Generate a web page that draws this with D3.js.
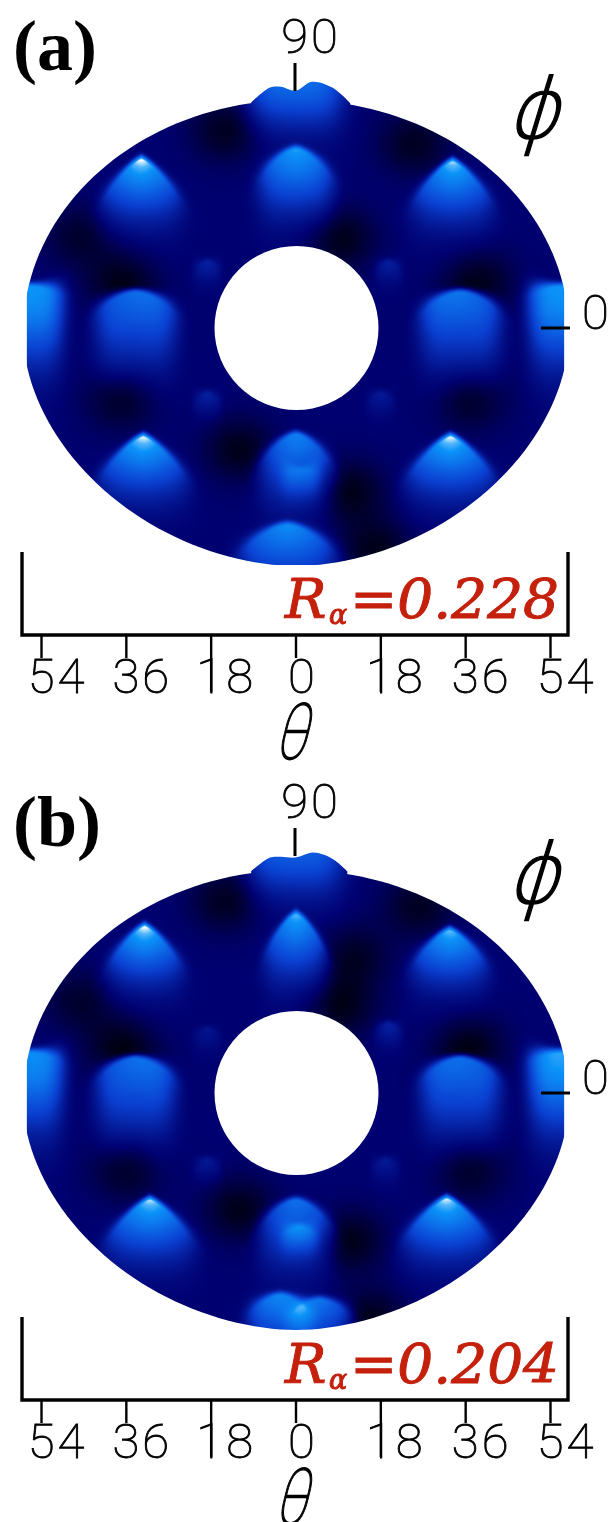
<!DOCTYPE html>
<html><head><meta charset="utf-8">
<script src="https://cdn.jsdelivr.net/npm/d3@7"></script>
<style>
html,body{margin:0;padding:0;background:#fff;width:611px;height:1522px;overflow:hidden}
canvas,svg{position:absolute;left:0;top:0}
.num{font-family:Roboto,"DejaVu Sans",sans-serif;font-weight:100;font-size:49px;fill:#000;stroke:#000;stroke-width:.9px;letter-spacing:3px}
.tag{font-family:"Liberation Serif",serif;font-weight:700;font-size:72px;fill:#000}
.ra{font-family:"DejaVu Serif",serif;font-style:italic;fill:#c4200c;stroke:#c4200c;stroke-width:1px}
.sym{font-family:Roboto,"DejaVu Sans",sans-serif;font-weight:100;fill:#000;stroke:#000;stroke-width:1.3px}
</style></head><body>
<canvas id="heat" width="611" height="1522"></canvas>
<svg id="chart" width="611" height="1522"></svg>
<script>
// ---- axis labels / ticks
const thetaTicks = [-54,-36,-18,0,18,36,54];
const phiTicks = [0,90];
const panelTags = ["(a)","(b)"];
const ratios = ["0.228","0.204"];
const panelCentreY = [328,1093];

// ---- panel (a): mounds, degrees and intensity 0..1
const aTheta = [0,0,-32.8,33.2,-34,34.9,-57,57,-18.8,19.6,-18.8,18,-32.4,32.8,0,1,-1.8];
const aPhi   = [95,67.7,63.9,63.1,13.3,13.3,15.6,15.6,25,25,-25,-25,-41.4,-41.4,-40.7,-54,-75];
const aLevel = [.6,.8,1,.97,.72,.74,.8,.8,.27,.27,.27,.24,1,1,.7,.34,.72];
const aWidth = [10,8,9,9,8.6,8.6,7.4,7.4,3,3,3,3,10,10,8,4,10.5];
const aDepth = [22,27,25,25,31,31,33,33,10,10,10,10,25,25,28,12,26];
const aPoint = [1,.6,.3,.3,.8,.8,1,1,.6,.6,.6,.6,.3,.3,.6,1,.6];
// dark hollows of panel (a)
const aWellTheta = [-15,25,9.5,-37,39,-46,-37,37,-12,11.5,17,-34.7,34.9];
const aWellPhi   = [75,70,34,18,18,35,-27,-27,-46,-62,-84,2.3,2.3];
const aWellDepth = [.11,.11,.12,.11,.11,.09,.11,.11,.12,.12,.12,.09,.09];

// ---- panel (b)
const bTheta = [0,0,-32.1,32.6,-34,34.9,-57,57,-18.8,19.6,-18.8,19,-31,32,0,.7,-3.3,5];
const bPhi   = [94,67.7,63.1,61.6,12.9,12.9,15.2,15.2,24,26,-25.5,-25.5,-40.7,-40.3,-41,-51,-77,-78.7];
const bLevel = [.54,.86,1,.93,.74,.74,.76,.84,.22,.28,.24,.24,.98,1,.62,.46,.7,.62];
const bWidth = [10,7,8.5,8.5,8.4,8.4,7.4,7.4,3,3,3,3,10,10,8,3.8,7,7];
const bDepth = [22,28,24,23,31,31,33,33,10,10,10,10,25,25,28,11,22,20];
const bPoint = [1,.4,.3,.35,.8,.8,1,1,.6,.6,.6,.6,.3,.3,.65,.7,.7,.7];
const bWellTheta = [-15,26,12.6,-46,9.5,-37,37,-36,37,-12,11.5,16,-35,34.9];
const bWellPhi   = [73,71,52,35,33,18,18,-29,-29,-44,-56,-86,3.8,3.8];
const bWellDepth = [.11,.11,.1,.09,.12,.11,.11,.11,.11,.12,.12,.12,.09,.09];

// ---- crest along the top rim
const aCrestTheta = [-9.4,-5.4,-3.1,0,3.5,7.8,11.6];
const aCrestPhi   = [85.6,91.3,91.6,90.1,93.5,91.3,85.4];
const bCrestTheta = [-9.4,-5.4,-3.1,0,3.8,7.8,11];
const bCrestPhi   = [84.2,89.4,89.7,89.4,91.3,89,84.2];

const baseLevel = .14;
const colour = d3.scaleLinear()
  .domain([0,.14,.4,.62,.8,.9,1])
  .range(["#00000c","#000070","#0a3fd0","#0c70ea","#0b93f8","#55b6fb","#ffffff"])
  .clamp(true);

const panels = [
 {t:aTheta,p:aPhi,l:aLevel,w:aWidth,d:aDepth,a:aPoint,wt:aWellTheta,wp:aWellPhi,wd:aWellDepth,ct:aCrestTheta,cp:aCrestPhi,rimY:5,rimR:233},
 {t:bTheta,p:bPhi,l:bLevel,w:bWidth,d:bDepth,a:bPoint,wt:bWellTheta,wp:bWellPhi,wd:bWellDepth,ct:bCrestTheta,cp:bCrestPhi,rimY:7,rimR:230}
];

function field(P,th,ph){
  let v = baseLevel;
  for(let i=0;i<P.t.length;i++){
    const u=(th-P.t[i])/P.w[i];
    if(Math.abs(u)>3) continue;
    const a=P.a[i], au=Math.abs(u);
    const k=.12+(1-a)*.9;
    const raw=P.p[i]-ph;
    const dy=raw-k*P.d[i]*Math.pow(au,2-(1-a)*.9);
    const t0=Math.max(raw,0)/P.d[i];
    const edge=1.8+4*u*u;
    const rise=dy<0?Math.exp(-(dy*dy)/(edge*edge)):1;
    const hi=.5*(1-a);
    const body=(1-hi)*Math.exp(-t0*t0*1.8);
    const glint=hi*Math.exp(-t0/.3)*Math.exp(-7*u*u);
    v+=(P.l[i]-baseLevel)*rise*(body+glint)*Math.exp(-Math.pow(au,4));
  }
  for(let i=0;i<P.wt.length;i++){
    const u=(th-P.wt[i])/7.5, w=(ph-P.wp[i])/12;
    v-=P.wd[i]*Math.exp(-(u*u+w*w));
  }
  return v;
}

const svg = d3.select("#chart");
const ctx = document.getElementById("heat").getContext("2d");

panels.forEach((P,k)=>{
  const cy = panelCentreY[k];
  const x = d3.scaleLinear().domain([-54,54]).range([41,550]);
  const y = d3.scaleLinear().domain([0,90]).range([cy,cy-237]);

  // raster of the field, read through the inverted scales
  const top=cy-250, H=520, W=611;
  const off=document.createElement("canvas"); off.width=W; off.height=H;
  const oc=off.getContext("2d"), img=oc.createImageData(W,H);
  for(let j=0;j<H;j++){
    const ph=y.invert(top+j);
    for(let i=0;i<W;i++){
      const c=d3.rgb(colour(field(P,x.invert(i),ph)));
      const o=(j*W+i)*4;
      img.data[o]=c.r;img.data[o+1]=c.g;img.data[o+2]=c.b;img.data[o+3]=255;
    }
  }
  oc.putImageData(img,0,0);

  // silhouette: rim (slightly squarer lower half) cut by the theta limits, crest on top, hole removed
  const mask=document.createElement("canvas"); mask.width=W; mask.height=1522;
  const m=mask.getContext("2d");
  m.save();
  m.beginPath(); m.rect(x(-57),top,x(57)-x(-57),y(-90)-top); m.clip();
  const rim=d3.range(0,361,2).map(deg=>{
    const c=Math.cos(deg*Math.PI/180), s=Math.sin(deg*Math.PI/180), n=s>0?1.86:2;
    return [296+273*Math.sign(c)*Math.pow(Math.abs(c),2/n), cy+P.rimY+P.rimR*Math.sign(s)*Math.pow(Math.abs(s),2/n)];
  });
  m.beginPath(); d3.line().context(m)(rim); m.closePath(); m.fill();
  m.restore();
  m.beginPath();
  d3.line().x(d=>x(d[0])).y(d=>y(d[1])).curve(d3.curveCatmullRom).context(m)(d3.zip(P.ct,P.cp));
  m.lineTo(x(P.ct[P.ct.length-1]),y(80)); m.lineTo(x(P.ct[0]),y(80));
  m.closePath(); m.fill();
  m.globalCompositeOperation="source-in";
  m.drawImage(off,0,top);
  m.globalCompositeOperation="destination-out";
  m.beginPath(); m.ellipse(296.5,cy,82,82,0,0,2*Math.PI); m.fill();
  ctx.drawImage(mask,0,0);

  const g=svg.append("g");
  // frame and theta axis
  const fy=cy+307;
  g.append("path").attr("d",d3.line()([[22,fy-83],[22,fy],[568,fy],[568,fy-83]]))
    .attr("fill","none").attr("stroke","#000").attr("stroke-width",3.4);
  const ax=g.append("g").attr("transform",`translate(0,${fy})`)
    .call(d3.axisBottom(x).tickValues(thetaTicks).tickSize(23).tickSizeOuter(0).tickFormat(d=>Math.abs(d)));
  ax.select(".domain").remove();
  ax.selectAll("line").attr("stroke","#000").attr("stroke-width",2.4)
    .attr("y2",d=>Math.abs(d)===18?57:23);
  ax.selectAll("text").attr("class","num").attr("fill",null).attr("font-size",null).attr("font-family",null)
    .attr("text-anchor","middle").attr("y",58).attr("dy",0)
    .attr("x",d=>d===0?7:(Math.abs(d)===18?15:16));

  // phi ticks
  g.append("line").attr("x1",541).attr("x2",570).attr("y1",y(0)).attr("y2",y(0)).attr("stroke","#000").attr("stroke-width",3);
  g.append("line").attr("x1",295).attr("x2",295).attr("y1",y(90)-28).attr("y2",y(90)).attr("stroke","#000").attr("stroke-width",3);
  g.append("text").attr("class","num").attr("x",597).attr("y",y(0)+1).attr("text-anchor","middle").text(phiTicks[0]);
  g.append("text").attr("class","num").attr("x",311).attr("y",y(90)-38).attr("text-anchor","middle").text(phiTicks[1]);

  // panel tag
  g.append("text").attr("class","tag").attr("x",13).attr("y",cy-(k?247:258)).text(panelTags[k]);

  // symbols
  g.append("text").attr("class","sym").attr("text-anchor","middle")
    .attr("transform",`translate(532,${cy-190}) skewX(-17) scale(1,1.05)`).attr("font-size",80).text("ϕ");
  g.append("text").attr("class","sym").attr("text-anchor","middle")
    .attr("transform",`translate(290,${cy+431}) skewX(-14) scale(.72,1)`).attr("font-size",78).text("θ");

  // ratio
  const r=g.append("g").attr("class","ra");
  r.append("text").attr("x",285).attr("y",cy+290).attr("font-size",55).text("R");
  r.append("text").attr("x",329).attr("y",cy+296).attr("font-size",27).text("α");
  r.append("text").attr("x",350).attr("y",cy+290).attr("font-size",55).attr("textLength",209).attr("lengthAdjust","spacingAndGlyphs").text("="+ratios[k]);
});
</script>
</body></html>
